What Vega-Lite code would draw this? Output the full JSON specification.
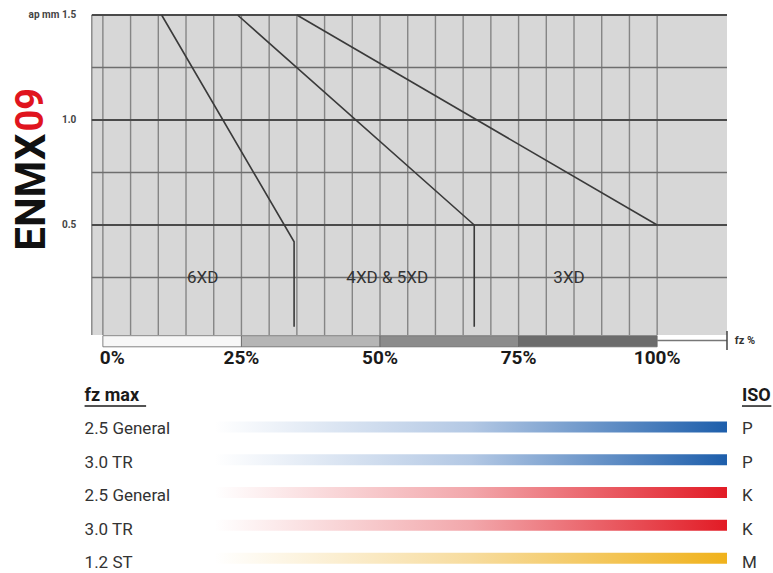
{
  "$schema": "https://vega.github.io/schema/vega-lite/v6.json",
  "width": 773,
  "height": 573,
  "autosize": {"type": "fit", "contains": "padding"},
  "padding": 0,
  "background": "#ffffff",
  "config": {"view": {"stroke": null}, "font": "Roboto, DejaVu Sans, sans-serif"},
  "datasets": {
    "panel": [{"region": "plot"}],
    "grid_v": [{"fz": -2}, {"fz": 0}, {"fz": 5}, {"fz": 10}, {"fz": 15}, {"fz": 20}, {"fz": 25}, {"fz": 30}, {"fz": 35}, {"fz": 40}, {"fz": 45}, {"fz": 50}, {"fz": 55}, {"fz": 60}, {"fz": 65}, {"fz": 70}, {"fz": 75}, {"fz": 80}, {"fz": 85}, {"fz": 90}, {"fz": 95}, {"fz": 100}],
    "grid_h": [{"ap": 0.25, "kind": "minor"}, {"ap": 0.5, "kind": "major"}, {"ap": 0.75, "kind": "minor"}, {"ap": 1.0, "kind": "major"}, {"ap": 1.25, "kind": "minor"}, {"ap": 1.5, "kind": "major"}],
    "curves": [
      {"series": "6XD", "o": 1, "fz": 10.6, "ap": 1.5},
      {"series": "6XD", "o": 2, "fz": 34.5, "ap": 0.42},
      {"series": "6XD", "o": 3, "fz": 34.5, "ap": 0.016},
      {"series": "4XD & 5XD", "o": 1, "fz": 24.3, "ap": 1.5},
      {"series": "4XD & 5XD", "o": 2, "fz": 67.0, "ap": 0.5},
      {"series": "4XD & 5XD", "o": 3, "fz": 67.0, "ap": 0.016},
      {"series": "3XD", "o": 1, "fz": 35.0, "ap": 1.5},
      {"series": "3XD", "o": 2, "fz": 100, "ap": 0.5}
    ],
    "zones": [{"label": "6XD", "fz": 18, "ap": 0.25}, {"label": "4XD & 5XD", "fz": 51.3, "ap": 0.25}, {"label": "3XD", "fz": 84.1, "ap": 0.25}],
    "yticks": [{"ap": 1.5, "label": "ap mm 1.5"}, {"ap": 1.0, "label": "1.0"}, {"ap": 0.5, "label": "0.5"}],
    "bands": [{"from": 0, "to": 25, "seg": "0-25"}, {"from": 25, "to": 50, "seg": "25-50"}, {"from": 50, "to": 75, "seg": "50-75"}, {"from": 75, "to": 100, "seg": "75-100"}],
    "pct": [{"fz": 0, "label": "0%"}, {"fz": 25, "label": "25%"}, {"fz": 50, "label": "50%"}, {"fz": 75, "label": "75%"}, {"fz": 100, "label": "100%"}],
    "unit": [{"label": "fz %"}],
    "brand": [{"text": "ENMX"}, {"text": "09"}],
    "headers": [{"label": "fz max", "side": "left"}, {"label": "ISO", "side": "right"}],
    "rows": [
      {"r": 1, "name": "2.5 General", "iso": "P"},
      {"r": 2, "name": "3.0 TR", "iso": "P"},
      {"r": 3, "name": "2.5 General", "iso": "K"},
      {"r": 4, "name": "3.0 TR", "iso": "K"},
      {"r": 5, "name": "1.2 ST", "iso": "M"}
    ]
  },
  "resolve": {"scale": {"y": "independent", "color": "independent", "strokeWidth": "independent"}},
  "layer": [
    {
      "data": {"name": "panel"},
      "mark": {"type": "rect", "color": "#d7d7d7"},
      "encoding": {
        "x": {"datum": -2, "type": "quantitative", "scale": {"domain": [-18.56, 120.72], "nice": false, "zero": false}, "axis": null},
        "x2": {"datum": 112.6},
        "y": {"datum": 1.5, "type": "quantitative", "scale": {"domain": [-1.1571, 1.5714], "nice": false, "zero": false}, "axis": null},
        "y2": {"datum": -0.024}
      }
    },
    {
      "data": {"name": "grid_v"},
      "mark": {"type": "rule", "color": "#858585", "strokeWidth": 1.4},
      "encoding": {
        "x": {"field": "fz", "type": "quantitative", "axis": null},
        "y": {"datum": 1.5, "type": "quantitative", "scale": {"domain": [-1.1571, 1.5714], "nice": false, "zero": false}, "axis": null},
        "y2": {"datum": -0.024}
      }
    },
    {
      "data": {"name": "grid_h"},
      "mark": {"type": "rule"},
      "encoding": {
        "x": {"datum": -2, "type": "quantitative", "axis": null},
        "x2": {"datum": 112.6},
        "y": {"field": "ap", "type": "quantitative", "scale": {"domain": [-1.1571, 1.5714], "nice": false, "zero": false}, "axis": null},
        "color": {"field": "kind", "type": "nominal", "scale": {"domain": ["major", "minor"], "range": ["#4a4a4a", "#6e6e6e"]}, "legend": null},
        "strokeWidth": {"field": "kind", "type": "nominal", "scale": {"domain": ["major", "minor"], "range": [2.2, 1.4]}, "legend": null}
      }
    },
    {
      "data": {"name": "curves"},
      "mark": {"type": "line", "color": "#3a3a3a", "strokeWidth": 1.6},
      "encoding": {
        "x": {"field": "fz", "type": "quantitative", "axis": null},
        "y": {"field": "ap", "type": "quantitative", "scale": {"domain": [-1.1571, 1.5714], "nice": false, "zero": false}, "axis": null},
        "detail": {"field": "series"},
        "order": {"field": "o", "type": "quantitative"}
      }
    },
    {
      "data": {"name": "zones"},
      "mark": {"type": "text", "fontSize": 17, "color": "#333333", "align": "center", "baseline": "middle"},
      "encoding": {
        "x": {"field": "fz", "type": "quantitative", "axis": null},
        "y": {"field": "ap", "type": "quantitative", "scale": {"domain": [-1.1571, 1.5714], "nice": false, "zero": false}, "axis": null},
        "text": {"field": "label"}
      }
    },
    {
      "data": {"name": "yticks"},
      "mark": {"type": "text", "fontSize": 10, "fontWeight": "bold", "color": "#444444", "align": "right", "baseline": "middle"},
      "encoding": {
        "x": {"datum": -4.8, "type": "quantitative", "axis": null},
        "y": {"field": "ap", "type": "quantitative", "scale": {"domain": [-1.1571, 1.5714], "nice": false, "zero": false}, "axis": null},
        "text": {"field": "label"}
      }
    },
    {
      "data": {"name": "bands"},
      "mark": {"type": "rect", "stroke": "#666666", "strokeWidth": 0.8},
      "encoding": {
        "x": {"field": "from", "type": "quantitative", "axis": null},
        "x2": {"field": "to"},
        "y": {"datum": -0.027, "type": "quantitative", "scale": {"domain": [-1.1571, 1.5714], "nice": false, "zero": false}, "axis": null},
        "y2": {"datum": -0.08},
        "color": {"field": "seg", "type": "nominal", "scale": {"domain": ["0-25", "25-50", "50-75", "75-100"], "range": ["#f7f7f7", "#b5b5b5", "#8c8c8c", "#6c6c6c"]}, "legend": null}
      }
    },
    {
      "data": {"name": "unit"},
      "mark": {"type": "rule", "color": "#777777", "strokeWidth": 1.5},
      "encoding": {
        "x": {"datum": 100, "type": "quantitative", "axis": null},
        "x2": {"datum": 112.6},
        "y": {"datum": -0.05, "type": "quantitative", "scale": {"domain": [-1.1571, 1.5714], "nice": false, "zero": false}, "axis": null}
      }
    },
    {
      "data": {"name": "unit"},
      "mark": {"type": "rule", "color": "#444444", "strokeWidth": 1.5},
      "encoding": {
        "x": {"datum": 112.6, "type": "quantitative", "axis": null},
        "y": {"datum": -0.005, "type": "quantitative", "scale": {"domain": [-1.1571, 1.5714], "nice": false, "zero": false}, "axis": null},
        "y2": {"datum": -0.095}
      }
    },
    {
      "data": {"name": "unit"},
      "mark": {"type": "text", "fontSize": 11, "fontWeight": "bold", "color": "#333333", "align": "left", "baseline": "middle"},
      "encoding": {
        "x": {"datum": 114.0, "type": "quantitative", "axis": null},
        "y": {"datum": -0.05, "type": "quantitative", "scale": {"domain": [-1.1571, 1.5714], "nice": false, "zero": false}, "axis": null},
        "text": {"field": "label"}
      }
    },
    {
      "data": {"name": "pct"},
      "transform": [{"filter": "datum.fz > 0"}],
      "mark": {"type": "text", "fontSize": 19, "fontWeight": "bold", "color": "#1a1a1a", "align": "center", "baseline": "middle"},
      "encoding": {
        "x": {"field": "fz", "type": "quantitative", "axis": null},
        "y": {"datum": -0.135, "type": "quantitative", "scale": {"domain": [-1.1571, 1.5714], "nice": false, "zero": false}, "axis": null},
        "text": {"field": "label"}
      }
    },
    {
      "data": {"name": "pct"},
      "transform": [{"filter": "datum.fz == 0"}],
      "mark": {"type": "text", "fontSize": 19, "fontWeight": "bold", "color": "#1a1a1a", "align": "left", "baseline": "middle", "dx": -3},
      "encoding": {
        "x": {"field": "fz", "type": "quantitative", "axis": null},
        "y": {"datum": -0.135, "type": "quantitative", "scale": {"domain": [-1.1571, 1.5714], "nice": false, "zero": false}, "axis": null},
        "text": {"field": "label"}
      }
    },
    {
      "data": {"name": "brand"},
      "transform": [{"filter": "datum.text == 'ENMX'"}],
      "mark": {"type": "text", "fontSize": 42, "fontWeight": "bold", "color": "#111111", "align": "right", "baseline": "middle", "angle": 270},
      "encoding": {
        "x": {"datum": -12.8, "type": "quantitative", "axis": null},
        "y": {"datum": 0.935, "type": "quantitative", "scale": {"domain": [-1.1571, 1.5714], "nice": false, "zero": false}, "axis": null},
        "text": {"field": "text"}
      }
    },
    {
      "data": {"name": "brand"},
      "transform": [{"filter": "datum.text == '09'"}],
      "mark": {"type": "text", "fontSize": 38, "fontWeight": "bold", "color": "#e0141e", "align": "left", "baseline": "middle", "angle": 270},
      "encoding": {
        "x": {"datum": -12.8, "type": "quantitative", "axis": null},
        "y": {"datum": 0.945, "type": "quantitative", "scale": {"domain": [-1.1571, 1.5714], "nice": false, "zero": false}, "axis": null},
        "text": {"field": "text"}
      }
    },
    {
      "data": {"name": "headers"},
      "transform": [{"filter": "datum.side == 'left'"}],
      "mark": {"type": "text", "fontSize": 18, "fontWeight": "bold", "color": "#1a1a1a", "align": "left", "baseline": "middle"},
      "encoding": {
        "x": {"datum": -3.3, "type": "quantitative", "axis": null},
        "y": {"datum": 0, "type": "quantitative", "scale": {"domain": [-11.856, 5.299], "reverse": true, "nice": false, "zero": false}, "axis": null},
        "text": {"field": "label"}
      }
    },
    {
      "data": {"name": "headers"},
      "transform": [{"filter": "datum.side == 'right'"}],
      "mark": {"type": "text", "fontSize": 18, "fontWeight": "bold", "color": "#1a1a1a", "align": "left", "baseline": "middle"},
      "encoding": {
        "x": {"datum": 115.3, "type": "quantitative", "axis": null},
        "y": {"datum": 0, "type": "quantitative", "scale": {"domain": [-11.856, 5.299], "reverse": true, "nice": false, "zero": false}, "axis": null},
        "text": {"field": "label"}
      }
    },
    {
      "data": {"name": "headers"},
      "transform": [{"filter": "datum.side == 'left'"}],
      "mark": {"type": "rule", "color": "#1a1a1a", "strokeWidth": 1.5},
      "encoding": {
        "x": {"datum": -3.3, "type": "quantitative", "axis": null},
        "x2": {"datum": 7.8},
        "y": {"datum": 0.3, "type": "quantitative", "scale": {"domain": [-11.856, 5.299], "reverse": true, "nice": false, "zero": false}, "axis": null}
      }
    },
    {
      "data": {"name": "headers"},
      "transform": [{"filter": "datum.side == 'right'"}],
      "mark": {"type": "rule", "color": "#1a1a1a", "strokeWidth": 1.5},
      "encoding": {
        "x": {"datum": 115.3, "type": "quantitative", "axis": null},
        "x2": {"datum": 120.6},
        "y": {"datum": 0.3, "type": "quantitative", "scale": {"domain": [-11.856, 5.299], "reverse": true, "nice": false, "zero": false}, "axis": null}
      }
    },
    {
      "data": {"name": "rows"},
      "mark": {"type": "text", "fontSize": 17, "color": "#333333", "align": "left", "baseline": "middle"},
      "encoding": {
        "x": {"datum": -3.3, "type": "quantitative", "axis": null},
        "y": {"field": "r", "type": "quantitative", "scale": {"domain": [-11.856, 5.299], "reverse": true, "nice": false, "zero": false}, "axis": null},
        "text": {"field": "name"}
      }
    },
    {
      "data": {"name": "rows"},
      "transform": [{"filter": "datum.iso == 'P'"}],
      "mark": {"type": "bar", "orient": "horizontal", "height": 11, "color": {"gradient": "linear", "x1": 0, "y1": 0, "x2": 1, "y2": 0, "stops": [{"offset": 0, "color": "#ffffff"}, {"offset": 0.5, "color": "#b3c8e4"}, {"offset": 1, "color": "#1d5eab"}]}},
      "encoding": {
        "x": {"datum": 20.2, "type": "quantitative", "axis": null},
        "x2": {"datum": 112.6},
        "y": {"field": "r", "type": "quantitative", "scale": {"domain": [-11.856, 5.299], "reverse": true, "nice": false, "zero": false}, "axis": null}
      }
    },
    {
      "data": {"name": "rows"},
      "transform": [{"filter": "datum.iso == 'K'"}],
      "mark": {"type": "bar", "orient": "horizontal", "height": 11, "color": {"gradient": "linear", "x1": 0, "y1": 0, "x2": 1, "y2": 0, "stops": [{"offset": 0, "color": "#ffffff"}, {"offset": 0.5, "color": "#f2a7ab"}, {"offset": 1, "color": "#e21b25"}]}},
      "encoding": {
        "x": {"datum": 20.2, "type": "quantitative", "axis": null},
        "x2": {"datum": 112.6},
        "y": {"field": "r", "type": "quantitative", "scale": {"domain": [-11.856, 5.299], "reverse": true, "nice": false, "zero": false}, "axis": null}
      }
    },
    {
      "data": {"name": "rows"},
      "transform": [{"filter": "datum.iso == 'M'"}],
      "mark": {"type": "bar", "orient": "horizontal", "height": 11, "color": {"gradient": "linear", "x1": 0, "y1": 0, "x2": 1, "y2": 0, "stops": [{"offset": 0, "color": "#ffffff"}, {"offset": 0.5, "color": "#f7dc9e"}, {"offset": 1, "color": "#f0b21c"}]}},
      "encoding": {
        "x": {"datum": 20.2, "type": "quantitative", "axis": null},
        "x2": {"datum": 112.6},
        "y": {"field": "r", "type": "quantitative", "scale": {"domain": [-11.856, 5.299], "reverse": true, "nice": false, "zero": false}, "axis": null}
      }
    },
    {
      "data": {"name": "rows"},
      "mark": {"type": "text", "fontSize": 17, "color": "#333333", "align": "left", "baseline": "middle"},
      "encoding": {
        "x": {"datum": 115.3, "type": "quantitative", "axis": null},
        "y": {"field": "r", "type": "quantitative", "scale": {"domain": [-11.856, 5.299], "reverse": true, "nice": false, "zero": false}, "axis": null},
        "text": {"field": "iso"}
      }
    }
  ]
}
